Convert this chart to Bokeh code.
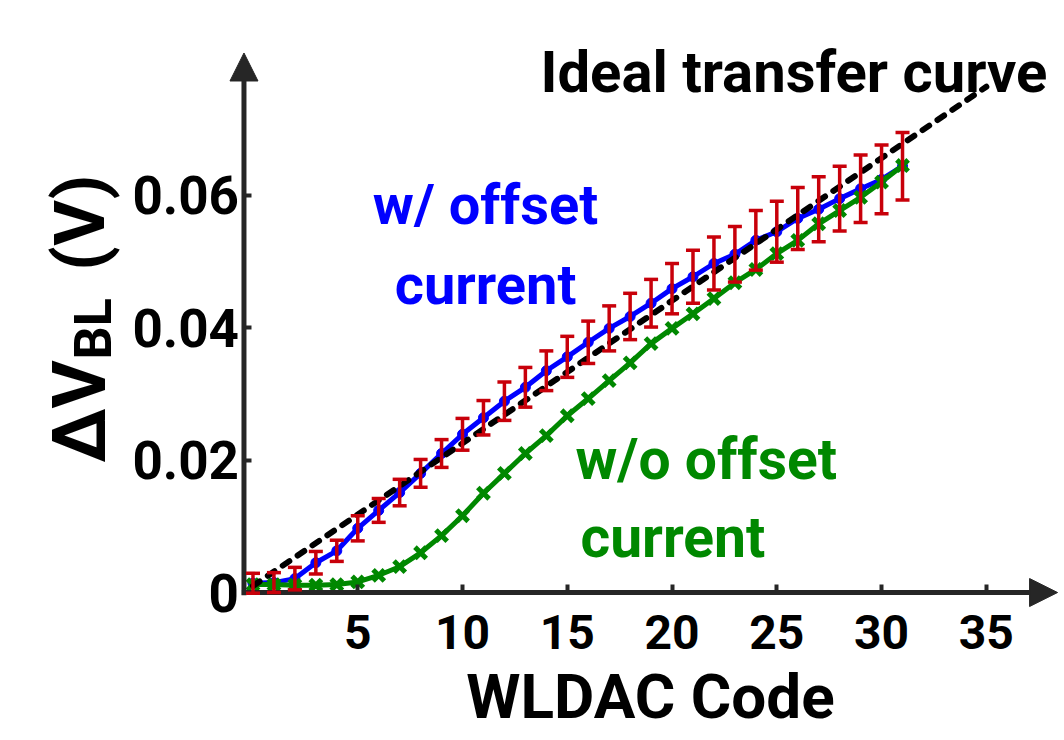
import math
from bokeh.plotting import figure
from bokeh.models import (Range1d, FixedTicker, Arrow, NormalHead, Whisker, TeeHead,
                          ColumnDataSource)
from bokeh.core.properties import value
from bokeh.embed import file_html
from bokeh.resources import INLINE

# ---------------- data ----------------
codes = list(range(32))
w_offset = [0.0014, 0.0015, 0.0021, 0.0045, 0.0063, 0.0097, 0.0124, 0.0151, 0.0180, 0.0210,
            0.0239, 0.0264, 0.0289, 0.0310, 0.0335, 0.0356, 0.0378, 0.0399, 0.0417, 0.0437,
            0.0459, 0.0477, 0.0497, 0.0511, 0.0532, 0.0545, 0.0565, 0.0579, 0.0595, 0.0610,
            0.0624, 0.0644]
w_offset_err = [0.0015, 0.0015, 0.0017, 0.0017, 0.0016, 0.0019, 0.0018, 0.0020, 0.0021, 0.0021,
                0.0024, 0.0026, 0.0029, 0.0030, 0.0030, 0.0031, 0.0032, 0.0034, 0.0035, 0.0036,
                0.0038, 0.0040, 0.0040, 0.0042, 0.0045, 0.0046, 0.0047, 0.0049, 0.0049, 0.0051,
                0.0052, 0.0051]
wo_offset = [0.0012, 0.0012, 0.0011, 0.0011, 0.0012, 0.0016, 0.0026, 0.0039, 0.0060, 0.0086,
             0.0116, 0.0150, 0.0180, 0.0210, 0.0237, 0.0267, 0.0293, 0.0320, 0.0347, 0.0376,
             0.0399, 0.0421, 0.0444, 0.0468, 0.0488, 0.0512, 0.0532, 0.0557, 0.0577, 0.0597,
             0.0620, 0.0645]
ideal_x = [0, 35]
ideal_y = [0.0010, 0.0764]

x_ticks = [5, 10, 15, 20, 25, 30, 35]
y_ticks = [0, 0.02, 0.04, 0.06]
y_tick_labels = ["0", "0.02", "0.04", "0.06"]

# ---------------- style ----------------
FONT = "Roboto"
AX = "#262626"
BLUE = "#0000FF"
GREEN = "#008800"
RED = "#C8000A"

p = figure(width=1060, height=736, x_range=Range1d(-12.05, 38.54),
           y_range=Range1d(-0.02175, 0.08943), output_backend="svg",
           toolbar_location=None, min_border=0)
p.min_border_left = p.min_border_right = p.min_border_top = p.min_border_bottom = 0
p.outline_line_color = None
p.grid.visible = False
p.background_fill_color = "white"

Y_SPINE = -0.43
X_END = 38.4

# axes at fixed locations
xa = p.xaxis[0]
xa.fixed_location = 0
xa.bounds = (Y_SPINE, X_END)
xa.ticker = FixedTicker(ticks=x_ticks)
xa.axis_line_color = None
xa.major_tick_in = 8
xa.major_tick_out = 0
xa.major_tick_line_width = 4
xa.major_tick_line_color = AX
xa.minor_tick_line_color = None
xa.major_label_text_font = FONT
xa.major_label_text_font_style = "bold"
xa.major_label_text_font_size = "48px"
xa.major_label_text_color = "black"
xa.major_label_standoff = 22
xa.axis_label = "WLDAC Code"
xa.axis_label_text_font = FONT
xa.axis_label_text_font_style = "bold"
xa.axis_label_text_font_size = "62px"
xa.axis_label_text_color = "black"
xa.axis_label_standoff = 8

ya = p.yaxis[0]
ya.fixed_location = Y_SPINE
ya.bounds = (0, 0.0815)
ya.ticker = FixedTicker(ticks=y_ticks)
ya.major_label_overrides = dict(zip(y_ticks, y_tick_labels))
ya.axis_line_color = None
ya.major_tick_in = 8
ya.major_tick_out = 0
ya.major_tick_line_width = 4
ya.major_tick_line_color = AX
ya.minor_tick_line_color = None
ya.major_label_text_font = FONT
ya.major_label_text_font_style = "bold"
ya.major_label_text_font_size = "53px"
ya.major_label_text_color = "black"
ya.major_label_standoff = 5

# arrows for axes
p.add_layout(Arrow(end=NormalHead(size=28, fill_color=AX, line_color=AX, line_width=1),
                   x_start=Y_SPINE, y_start=-0.0004, x_end=Y_SPINE, y_end=0.0815,
                   line_color=AX, line_width=5))
p.add_layout(Arrow(end=NormalHead(size=28, fill_color=AX, line_color=AX, line_width=1),
                   x_start=Y_SPINE - 0.1, y_start=0, x_end=X_END, y_end=0,
                   line_color=AX, line_width=5))

# series
p.line(codes, w_offset, line_color=BLUE, line_width=5)
p.scatter(codes, w_offset, marker="circle", size=10, fill_color=BLUE, line_color=BLUE)

p.line(codes, wo_offset, line_color=GREEN, line_width=5)
p.scatter(codes, wo_offset, marker="x", size=16, line_color=GREEN, line_width=5)

p.line(ideal_x, ideal_y, line_color="black", line_width=6, line_dash="8 10", line_cap="round")

err_src = ColumnDataSource(dict(
    x=codes,
    upper=[v + e for v, e in zip(w_offset, w_offset_err)],
    lower=[v - e for v, e in zip(w_offset, w_offset_err)],
))
wh = Whisker(source=err_src, base="x", upper="upper", lower="lower", dimension="height",
             line_color=RED, line_width=3.5,
             upper_head=TeeHead(size=14, line_color=RED, line_width=3.5),
             lower_head=TeeHead(size=14, line_color=RED, line_width=3.5))
wh.level = "annotation"
p.add_layout(wh)

# texts
common = dict(text_font=value(FONT), text_font_style="bold")
p.text(x=[13.72], y=[0.0787], text=["Ideal transfer curve"], text_color="black",
       text_font_size="58px", text_align="left", text_baseline="alphabetic", **common)
p.text(x=[11.1, 11.1], y=[0.0585, 0.04645], text=["w/ offset", "current"], text_color=BLUE,
       text_font_size="56px", text_align="center", text_baseline="alphabetic", **common)
p.text(x=[15.39, 15.63], y=[0.02006, 0.00828], text=["w/o offset", "current"], text_color=GREEN,
       text_font_size="57px", text_align="left", text_baseline="alphabetic", **common)

# y axis label: ΔV_BL (V)
p.text(x=[-8.3], y=[0.0196], text=["ΔV"], angle=math.pi / 2, text_color="black",
       text_font_size="74px", text_align="left", text_baseline="alphabetic", **common)
p.text(x=[-7.61], y=[0.0352], text=["BL"], angle=math.pi / 2, text_color="black",
       text_font_size="52px", text_align="left", text_baseline="alphabetic", **common)
p.text(x=[-8.24], y=[0.0486], text=["(V)"], angle=math.pi / 2, text_color="black",
       text_font_size="70px", text_align="left", text_baseline="alphabetic", **common)

open("out.html", "w").write(file_html(p, INLINE))
